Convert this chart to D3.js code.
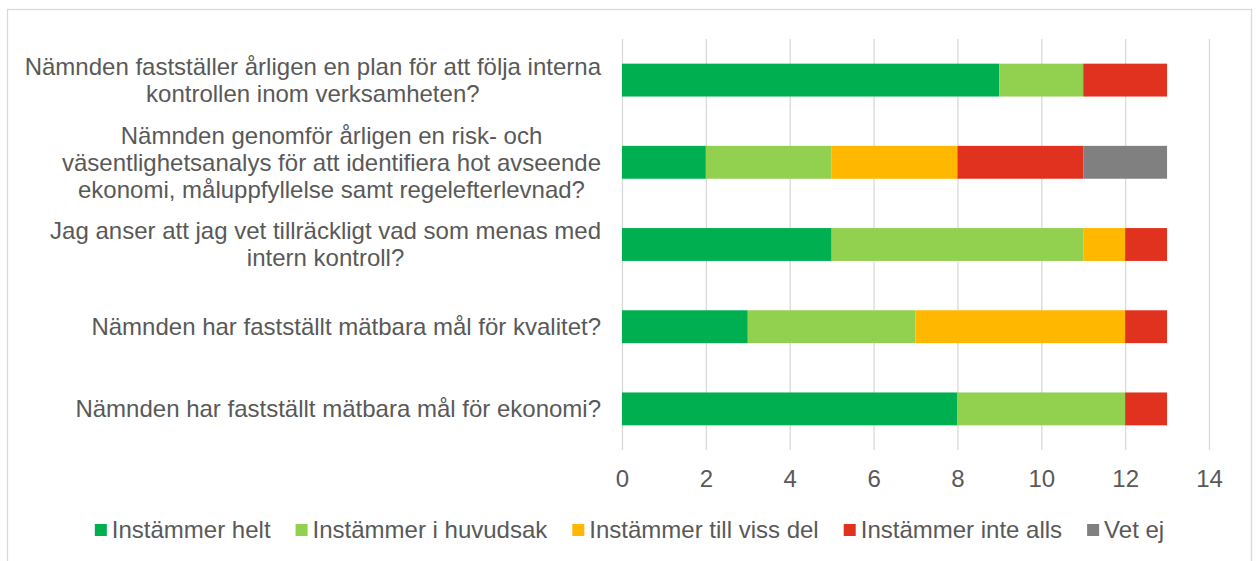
<!DOCTYPE html>
<html>
<head>
<meta charset="utf-8">
<script src="https://cdn.jsdelivr.net/npm/d3@7"></script>
<style>
  body { margin: 0; background: #fff; }
  text { font-family: "Liberation Sans", Arial, sans-serif; fill: #595959; }
</style>
</head>
<body>
<svg id="graf" width="1259" height="561"></svg>
<script>
// frågor (radbrytningar som i originalet)
var categories = [
  ["Nämnden fastställer årligen en plan för att följa interna", "kontrollen inom verksamheten?"],
  ["Nämnden genomför årligen en risk- och", "väsentlighetsanalys för att identifiera hot avseende", "ekonomi, måluppfyllelse samt regelefterlevnad?"],
  ["Jag anser att jag vet tillräckligt vad som menas med", "intern kontroll?"],
  ["Nämnden har fastställt mätbara mål för kvalitet?"],
  ["Nämnden har fastställt mätbara mål för ekonomi?"]
];
var seriesNames = ["Instämmer helt", "Instämmer i huvudsak", "Instämmer till viss del", "Instämmer inte alls", "Vet ej"];
var seriesColors = ["#00b050", "#92d050", "#ffb700", "#e0321f", "#808080"];
var instammerHelt = [9, 2, 5, 3, 8];
var iHuvudsak = [2, 3, 6, 4, 4];
var tillVissDel = [0, 3, 1, 5, 0];
var inteAlls = [2, 3, 1, 1, 1];
var vetEj = [0, 2, 0, 0, 0];
var xTicks = [0, 2, 4, 6, 8, 10, 12, 14];

var series = [instammerHelt, iHuvudsak, tillVissDel, inteAlls, vetEj];

// tabell for d3.stack
var rows = categories.map(function(c, i){
  var r = { key: i };
  seriesNames.forEach(function(s, j){ r[s] = series[j][i]; });
  return r;
});

var svg = d3.select("#graf");
var fontSize = 24;

// ram
svg.append("rect")
  .attr("x", 7.5).attr("y", 9.5)
  .attr("width", 1244).attr("height", 570)
  .attr("fill", "none").attr("stroke", "#d9d9d9").attr("stroke-width", 1.3);

var x = d3.scaleLinear().domain([0, 14]).range([622, 1209]);
var y = d3.scaleBand().domain(d3.range(categories.length)).range([39, 450])
  .paddingInner(0.6).paddingOuter(0.3);

// axel + rutnät
var ax = svg.append("g")
  .attr("transform", "translate(0,450)")
  .call(d3.axisBottom(x).tickValues(xTicks).tickSizeInner(-411).tickSizeOuter(0).tickPadding(20));
ax.select(".domain").remove();
ax.selectAll("line").attr("stroke", "#d9d9d9").attr("stroke-width", 1.3);
ax.selectAll("text").attr("font-size", fontSize).attr("font-family", null).style("fill", "#595959");

// staplar
var stack = d3.stack().keys(seriesNames)(rows);
svg.selectAll("g.serie")
  .data(stack)
  .enter().append("g")
  .attr("class", "serie")
  .attr("fill", function(d, i){ return seriesColors[i]; })
  .selectAll("rect")
  .data(function(d){ return d.filter(function(p){ return p[1] > p[0]; }); })
  .enter().append("rect")
  .attr("x", function(d){ return x(d[0]); })
  .attr("width", function(d){ return x(d[1]) - x(d[0]); })
  .attr("y", function(d){ return y(d.data.key); })
  .attr("height", y.bandwidth());

// kategorietiketter, högerjusterat block med centrerade rader
var lineH = 27;
categories.forEach(function(lines, i){
  var cy = y(i) + y.bandwidth() / 2;
  var t = svg.append("text")
    .attr("font-size", fontSize)
    .attr("text-anchor", "middle");
  lines.forEach(function(l, k){
    t.append("tspan")
      .attr("y", cy + (k - (lines.length - 1) / 2) * lineH)
      .attr("dy", "0.35em")
      .text(l);
  });
  var maxW = 0;
  t.selectAll("tspan").each(function(){
    var w = this.getComputedTextLength();
    if( w > maxW ){ maxW = w; }
  });
  t.selectAll("tspan").attr("x", 601 - maxW / 2);
});

// förklaring
var leg = svg.append("g");
var lx = 0;
seriesNames.forEach(function(s, i){
  var g = leg.append("g").attr("transform", "translate(" + lx + ",0)");
  g.append("rect").attr("x", 0).attr("y", 524).attr("width", 12).attr("height", 12)
    .attr("fill", seriesColors[i]);
  var tx = g.append("text").attr("x", 17).attr("y", 537.5).attr("font-size", fontSize).text(s);
  lx += 17 + tx.node().getComputedTextLength() + 25;
});
var legW = lx - 25;
leg.attr("transform", "translate(" + (629.5 - legW / 2) + ",0)");
</script>
</body>
</html>
